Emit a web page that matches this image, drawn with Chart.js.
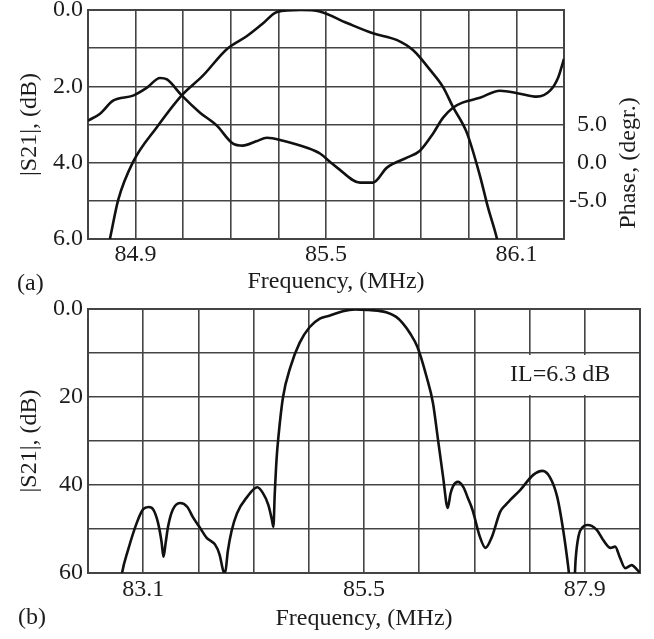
<!DOCTYPE html>
<html><head><meta charset="utf-8">
<script src="https://cdn.jsdelivr.net/npm/chart.js@4.4.1/dist/chart.umd.min.js"></script>
<style>
html,body{margin:0;padding:0;background:#fff;width:654px;height:639px;overflow:hidden}
canvas{position:absolute;left:0;top:0}
</style></head><body>
<canvas id="ca" width="654" height="639"></canvas>
<canvas id="cb" width="654" height="639"></canvas>
<script>
// ---------- (a) passband: |S21| and phase ----------
const freqA_mag = [84.812, 84.819, 84.845, 84.892, 84.967, 85.046, 85.112, 85.188, 85.251, 85.300, 85.346, 85.420, 85.480, 85.566, 85.648, 85.724, 85.774, 85.828, 85.869, 85.900, 85.944, 85.986, 86.010, 86.039, 86.045];
const magA      = [6.25, 6.0, 4.98, 3.98, 3.07, 2.23, 1.72, 1.02, 0.68, 0.36, 0.05, 0.0, 0.04, 0.34, 0.61, 0.79, 1.05, 1.57, 2.02, 2.54, 3.22, 4.37, 5.16, 6.0, 6.25];
const freqA_phase = [84.750, 84.788, 84.829, 84.892, 84.936, 84.977, 84.999, 85.046, 85.103, 85.156, 85.207, 85.238, 85.280, 85.314, 85.365, 85.440, 85.481, 85.513, 85.535, 85.607, 85.648, 85.692, 85.755, 85.796, 85.837, 85.869, 85.900, 85.930, 85.985, 86.048, 86.111, 86.164, 86.206, 86.231, 86.250];
const phaseA      = [5.5, 6.42, 8.12, 8.78, 9.83, 11.1, 10.9, 8.78, 6.55, 4.85, 2.49, 2.23, 2.8, 3.27, 2.88, 1.96, 1.2, 0.1, -0.65, -2.62, -2.62, -0.65, 0.65, 1.57, 3.8, 5.9, 7.2, 7.86, 8.5, 9.43, 9.04, 8.65, 9.43, 11.1, 13.6];
const xTickValuesA = [84.9, 85.5, 86.1];
const xTickLabelsA = ['84.9', '85.5', '86.1'];
const yTickValuesA = [0, 2, 4, 6];
const yTickLabelsA = ['0.0', '2.0', '4.0', '6.0'];
const y2TickValuesA = [5, 0, -5];
const y2TickLabelsA = ['5.0', '0.0', '-5.0'];

// ---------- (b) wideband |S21| ----------
const freqB = [82.86, 82.87, 82.935, 83.03, 83.10, 83.16, 83.21, 83.26, 83.30, 83.32, 83.345, 83.37, 83.42, 83.50, 83.58, 83.64, 83.72, 83.79, 83.84, 83.88, 83.93, 83.97, 83.99, 84.02, 84.06, 84.12, 84.23, 84.34, 84.40, 84.46, 84.50, 84.515, 84.53, 84.55, 84.57, 84.62, 84.70, 84.80, 84.91, 85.02, 85.13, 85.27, 85.40, 85.53, 85.65, 85.75, 85.85, 85.92, 86.00, 86.08, 86.18, 86.25, 86.30, 86.36, 86.41, 86.44, 86.47, 86.52, 86.58, 86.63, 86.68, 86.76, 86.82, 86.89, 86.98, 87.04, 87.09, 87.20, 87.34, 87.44, 87.52, 87.60, 87.67, 87.72, 87.755, 87.78, 87.80, 87.83, 87.88, 87.93, 88.03, 88.10, 88.18, 88.23, 88.28, 88.34, 88.41, 88.47, 88.50];
const magB  = [61.5, 60, 54.8, 48.6, 45.5, 45.0, 45.6, 48.5, 53, 56.3, 53, 49.5, 45.7, 44.1, 45, 47.3, 49.8, 52, 52.8, 53.5, 55.8, 59.5, 60, 55, 50.5, 46.4, 42.7, 40.5, 41.8, 44.5, 48, 49.5, 42, 34, 29, 20, 13.2, 7.7, 4.1, 2.2, 1.5, 0.5, 0.1, 0.2, 0.4, 0.8, 1.8, 3.2, 5.5, 8.6, 15.4, 21.4, 29, 38.2, 45.2, 42, 40.2, 39.3, 40.5, 43, 45.7, 51.8, 54.3, 51.8, 46.1, 44.5, 43.4, 41.1, 37.7, 36.8, 38.2, 42.7, 50.9, 58.6, 65, 65, 57, 51.8, 49.5, 49.1, 50.2, 52.5, 54.3, 54, 56.4, 58.9, 58.2, 59.3, 60];
const xTickValuesB = [83.1, 85.5, 87.9];
const xTickLabelsB = ['83.1', '85.5', '87.9'];
const yTickValuesB = [0, 20, 40, 60];
const yTickLabelsB = ['0.0', '20', '40', '60'];

// ---------- styling helpers ----------
const FONT = "'Liberation Serif', 'Times New Roman', Times, serif";
const INK = '#1c1c1c';
const GRID = '#444444';
const tickFont = {family: FONT, size: 24};

function fixedSize(w, h) {
  return function (scale) {
    if (w !== null) scale.width = w;
    if (h !== null) scale.height = h;
    scale.paddingTop = 0; scale.paddingBottom = 0;
    scale.paddingLeft = 0; scale.paddingRight = 0;
  };
}
function gridValues(min, step, n) {
  const a = [];
  for (let i = 0; i <= n; i++) a.push(+(min + i * step).toFixed(4));
  return a;
}
function setTicks(values) {
  return function (scale) { scale.ticks = values.map(v => ({value: v})); };
}
function labelFrom(values, labels) {
  return function (v) {
    for (let i = 0; i < values.length; i++) if (Math.abs(values[i] - v) < 1e-6) return labels[i];
    return '';
  };
}
const framePlugin = {
  id: 'frame',
  beforeDatasetsDraw(chart) {
    const {ctx, chartArea: a} = chart;
    ctx.save();
    ctx.strokeStyle = GRID; ctx.lineWidth = 2;
    ctx.strokeRect(a.left, a.top, a.right - a.left, a.bottom - a.top);
    ctx.restore();
  }
};
function lineDs(label, xs, ys, axis) {
  return {
    label, yAxisID: axis,
    data: xs.map((f, i) => ({x: f, y: ys[i]})),
    borderColor: '#111', borderWidth: 2.6, pointRadius: 0, fill: false,
    cubicInterpolationMode: 'monotone'
  };
}

// ---------- chart (a) ----------
const notesA = {
  id: 'notesA',
  afterDraw(chart) {
    const ctx = chart.ctx;
    ctx.save();
    ctx.fillStyle = INK;
    ctx.font = '24px ' + FONT;
    ctx.textAlign = 'left'; ctx.textBaseline = 'alphabetic';
    ctx.fillText('(a)', 17, 290);
    ctx.textAlign = 'center'; ctx.textBaseline = 'middle';
    ctx.fillText('Frequency, (MHz)', 336, 282);
    ctx.translate(629, 163);
    ctx.rotate(-Math.PI / 2);
    ctx.fillText('Phase, (degr.)', 0, 0);
    ctx.restore();
  }
};
new Chart(document.getElementById('ca'), {
  type: 'line',
  data: {datasets: [
    lineDs('|S21|, (dB)', freqA_mag, magA, 'y'),
    lineDs('Phase, (degr.)', freqA_phase, phaseA, 'y2')
  ]},
  options: {
    responsive: false, devicePixelRatio: 1, animation: false,
    layout: {padding: {top: 10, bottom: 340, left: 0, right: 47}},
    plugins: {legend: {display: false}, tooltip: {enabled: false}},
    scales: {
      x: {
        type: 'linear', position: 'bottom', min: 84.75, max: 86.25,
        afterBuildTicks: setTicks(gridValues(84.75, 0.15, 10)),
        afterFit: fixedSize(null, 60),
        grid: {color: GRID, lineWidth: 1.6, drawTicks: false},
        border: {display: false},
        ticks: {autoSkip: false, maxRotation: 0, padding: 1, color: INK, font: tickFont,
                callback: labelFrom(xTickValuesA, xTickLabelsA)}
      },
      y: {
        type: 'linear', position: 'left', min: 0, max: 6, reverse: true,
        afterBuildTicks: setTicks(gridValues(0, 1, 6)),
        afterFit: fixedSize(88, null),
        grid: {color: GRID, lineWidth: 1.6, drawTicks: false},
        border: {display: false},
        ticks: {autoSkip: false, padding: 5, color: INK, font: tickFont,
                callback: labelFrom(yTickValuesA, yTickLabelsA)},
        title: {display: true, text: '|S21|, (dB)', color: INK, font: tickFont, padding: {top: 15.6, bottom: 0}}
      },
      y2: {
        type: 'linear', position: 'right', min: -10, max: 20,
        afterBuildTicks: setTicks(gridValues(-10, 5, 6)),
        afterFit: fixedSize(43, null),
        grid: {display: false, drawTicks: false},
        border: {display: false},
        ticks: {autoSkip: false, padding: 5, crossAlign: 'far', color: INK, font: tickFont,
                callback: labelFrom(y2TickValuesA, y2TickLabelsA)}
      }
    }
  },
  plugins: [framePlugin, notesA]
});

// ---------- chart (b) ----------
const notesB = {
  id: 'notesB',
  afterDraw(chart) {
    const ctx = chart.ctx;
    ctx.save();
    ctx.fillStyle = '#fff';
    ctx.fillRect(495, 355, 144, 40);
    ctx.fillStyle = INK;
    ctx.font = '24px ' + FONT;
    ctx.textAlign = 'left'; ctx.textBaseline = 'alphabetic';
    ctx.fillText('IL=6.3 dB', 510, 381);
    ctx.fillText('(b)', 18, 624);
    ctx.restore();
  }
};
new Chart(document.getElementById('cb'), {
  type: 'line',
  data: {datasets: [lineDs('|S21|, (dB)', freqB, magB, 'y')]},
  options: {
    responsive: false, devicePixelRatio: 1, animation: false,
    layout: {padding: {top: 309, bottom: 0, left: 0, right: 14}},
    plugins: {legend: {display: false}, tooltip: {enabled: false}},
    scales: {
      x: {
        type: 'linear', position: 'bottom', min: 82.5, max: 88.5,
        afterBuildTicks: setTicks(gridValues(82.5, 0.6, 10)),
        afterFit: fixedSize(null, 66),
        grid: {color: GRID, lineWidth: 1.6, drawTicks: false},
        border: {display: false},
        ticks: {autoSkip: false, maxRotation: 0, padding: 2, color: INK, font: tickFont,
                callback: labelFrom(xTickValuesB, xTickLabelsB)},
        title: {display: true, text: 'Frequency, (MHz)', color: INK, font: tickFont, padding: {top: 0, bottom: 6}}
      },
      y: {
        type: 'linear', position: 'left', min: 0, max: 60, reverse: true,
        afterBuildTicks: setTicks(gridValues(0, 10, 6)),
        afterFit: fixedSize(88, null),
        grid: {color: GRID, lineWidth: 1.6, drawTicks: false},
        border: {display: false},
        ticks: {autoSkip: false, padding: 5, color: INK, font: tickFont,
                callback: labelFrom(yTickValuesB, yTickLabelsB)},
        title: {display: true, text: '|S21|, (dB)', color: INK, font: tickFont, padding: {top: 15.6, bottom: 0}}
      }
    }
  },
  plugins: [framePlugin, notesB]
});
</script></body></html>
